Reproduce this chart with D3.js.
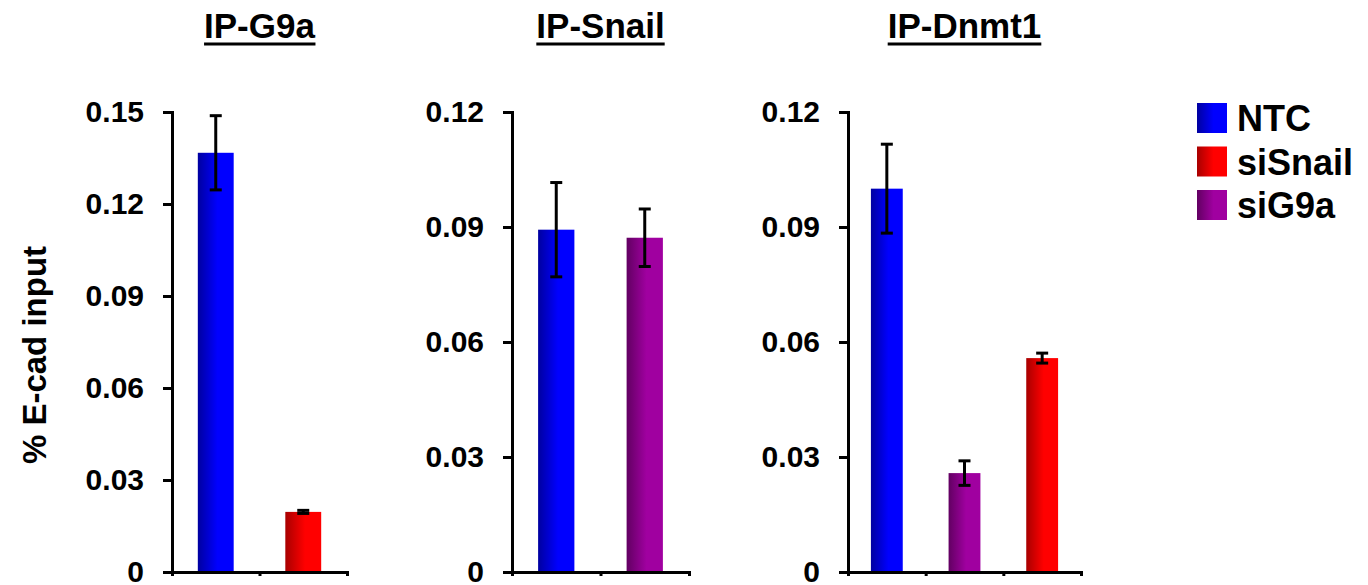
<!DOCTYPE html>
<html>
<head>
<meta charset="utf-8">
<script src="https://cdn.jsdelivr.net/npm/d3@7"></script>
<style>
    body { margin: 0; background: #fff; }
    svg { display: block; font-family: Arial, "Liberation Sans", sans-serif; font-weight: bold; }
</style>
</head>
<body>
<svg id="chart" width="1368" height="585"></svg>
<script>
// --- DATA ---
const panelTitles = ['IP-G9a', 'IP-Snail', 'IP-Dnmt1'];
const g9aGroups = ['NTC', 'siSnail'];
const g9aValues = [0.1367, 0.0196];
const g9aErrors = [0.0121, 0.0005];
const snailGroups = ['NTC', 'siG9a'];
const snailValues = [0.0893, 0.0872];
const snailErrors = [0.0123, 0.0075];
const dnmt1Groups = ['NTC', 'siG9a', 'siSnail'];
const dnmt1Values = [0.1000, 0.0258, 0.0558];
const dnmt1Errors = [0.0116, 0.0032, 0.0013];
const ticks15 = [0, 0.03, 0.06, 0.09, 0.12, 0.15];
const tickLabels15 = ['0', '0.03', '0.06', '0.09', '0.12', '0.15'];
const ticks12 = [0, 0.03, 0.06, 0.09, 0.12];
const tickLabels12 = ['0', '0.03', '0.06', '0.09', '0.12'];
const legendLabels = ['NTC', 'siSnail', 'siG9a'];
const yTitle = '% E-cad input';

const colors = {
    NTC: ['#0000a0', '#0000ff'],
    siSnail: ['#a80000', '#ff0000'],
    siG9a: ['#620062', '#a000a0']
};

const svg = d3.select('#chart');

// gradients: dark on the left, full colour from the middle
const defs = svg.append('defs');
Object.keys(colors).forEach(key => {
    const grad = defs.append('linearGradient')
        .attr('id', 'grad-' + key)
        .attr('x1', '0%').attr('x2', '100%').attr('y1', '0%').attr('y2', '0%');
    grad.append('stop').attr('offset', '0%').attr('stop-color', colors[key][0]);
    grad.append('stop').attr('offset', '55%').attr('stop-color', colors[key][1]);
    grad.append('stop').attr('offset', '100%').attr('stop-color', colors[key][1]);
});

const panels = [
    { title: panelTitles[0], groups: g9aGroups, values: g9aValues, errors: g9aErrors, ticks: ticks15, labels: tickLabels15, max: 0.15, left: 172, width: 175 },
    { title: panelTitles[1], groups: snailGroups, values: snailValues, errors: snailErrors, ticks: ticks12, labels: tickLabels12, max: 0.12, left: 512, width: 177 },
    { title: panelTitles[2], groups: dnmt1Groups, values: dnmt1Values, errors: dnmt1Errors, ticks: ticks12, labels: tickLabels12, max: 0.12, left: 848, width: 233 }
];

const plotTop = 112;
const plotBottom = 572;

panels.forEach(p => {
    const g = svg.append('g');

    const x = d3.scaleBand()
        .domain(p.groups)
        .range([p.left, p.left + p.width])
        .padding(0);
    const xTicks = d3.scaleLinear()
        .domain([0, p.groups.length])
        .range([p.left, p.left + p.width]);
    const y = d3.scaleLinear()
        .domain([0, p.max])
        .range([plotBottom, plotTop]);

    const barW = x.bandwidth() * 0.41;
    const data = p.groups.map((name, i) => ({ name, value: p.values[i], err: p.errors[i] }));

    g.selectAll('.bar')
        .data(data)
        .enter().append('rect')
        .attr('class', 'bar')
        .attr('x', d => x(d.name) + (x.bandwidth() - barW) / 2)
        .attr('width', barW)
        .attr('y', d => y(d.value))
        .attr('height', d => y(0) - y(d.value))
        .attr('fill', d => `url(#grad-${d.name})`);

    // error bars
    const capW = 12;
    const errG = g.selectAll('.err')
        .data(data)
        .enter().append('g')
        .attr('class', 'err')
        .attr('stroke', '#000')
        .attr('stroke-width', 3);
    errG.append('line')
        .attr('x1', d => x(d.name) + x.bandwidth() / 2)
        .attr('x2', d => x(d.name) + x.bandwidth() / 2)
        .attr('y1', d => y(d.value + d.err))
        .attr('y2', d => y(d.value - d.err));
    errG.append('line')
        .attr('x1', d => x(d.name) + x.bandwidth() / 2 - capW / 2)
        .attr('x2', d => x(d.name) + x.bandwidth() / 2 + capW / 2)
        .attr('y1', d => y(d.value + d.err))
        .attr('y2', d => y(d.value + d.err));
    errG.append('line')
        .attr('x1', d => x(d.name) + x.bandwidth() / 2 - capW / 2)
        .attr('x2', d => x(d.name) + x.bandwidth() / 2 + capW / 2)
        .attr('y1', d => y(d.value - d.err))
        .attr('y2', d => y(d.value - d.err));

    // axes
    const yAxis = g.append('g')
        .attr('transform', `translate(${p.left},0)`)
        .call(d3.axisLeft(y)
            .tickValues(p.ticks)
            .tickFormat((d, i) => p.labels[i])
            .tickSize(9)
            .tickSizeOuter(0)
            .tickPadding(19));
    const xAxis = g.append('g')
        .attr('transform', `translate(0,${plotBottom})`)
        .call(d3.axisBottom(xTicks)
            .tickValues(d3.range(p.groups.length + 1))
            .tickFormat('')
            .tickSize(4)
            .tickSizeOuter(0));
    [yAxis, xAxis].forEach(a => {
        a.selectAll('path, line').attr('stroke', '#000').attr('stroke-width', 3);
        a.select('.domain').attr('stroke-linecap', 'square');
    });
    yAxis.selectAll('text')
        .attr('fill', '#000')
        .style('font-size', '30px')
        .style('font-family', 'Arial, "Liberation Sans", sans-serif')
        .style('font-weight', 'bold')
        .attr('dy', '0.33em');

    // title with underline
    const cx = p.left + p.width / 2;
    const title = g.append('text')
        .attr('x', cx)
        .attr('y', 38)
        .attr('text-anchor', 'middle')
        .style('font-size', '35px')
        .text(p.title);
    const bb = title.node().getBBox();
    g.append('line')
        .attr('x1', bb.x).attr('x2', bb.x + bb.width)
        .attr('y1', 44).attr('y2', 44)
        .attr('stroke', '#000').attr('stroke-width', 3);
});

// y-axis title
svg.append('text')
    .attr('transform', 'translate(46,355) rotate(-90)')
    .attr('text-anchor', 'middle')
    .style('font-size', '33px')
    .text(yTitle);

// legend
const legend = svg.append('g').attr('transform', 'translate(1197,103)');
const rows = legend.selectAll('.row')
    .data(legendLabels)
    .enter().append('g')
    .attr('class', 'row')
    .attr('transform', (d, i) => `translate(0,${i * 43.5})`);
rows.append('rect')
    .attr('width', 30)
    .attr('height', 30)
    .attr('fill', d => `url(#grad-${d})`);
rows.append('text')
    .attr('x', 40)
    .attr('y', 28)
    .style('font-size', '36px')
    .text(d => d);
</script>
</body>
</html>
